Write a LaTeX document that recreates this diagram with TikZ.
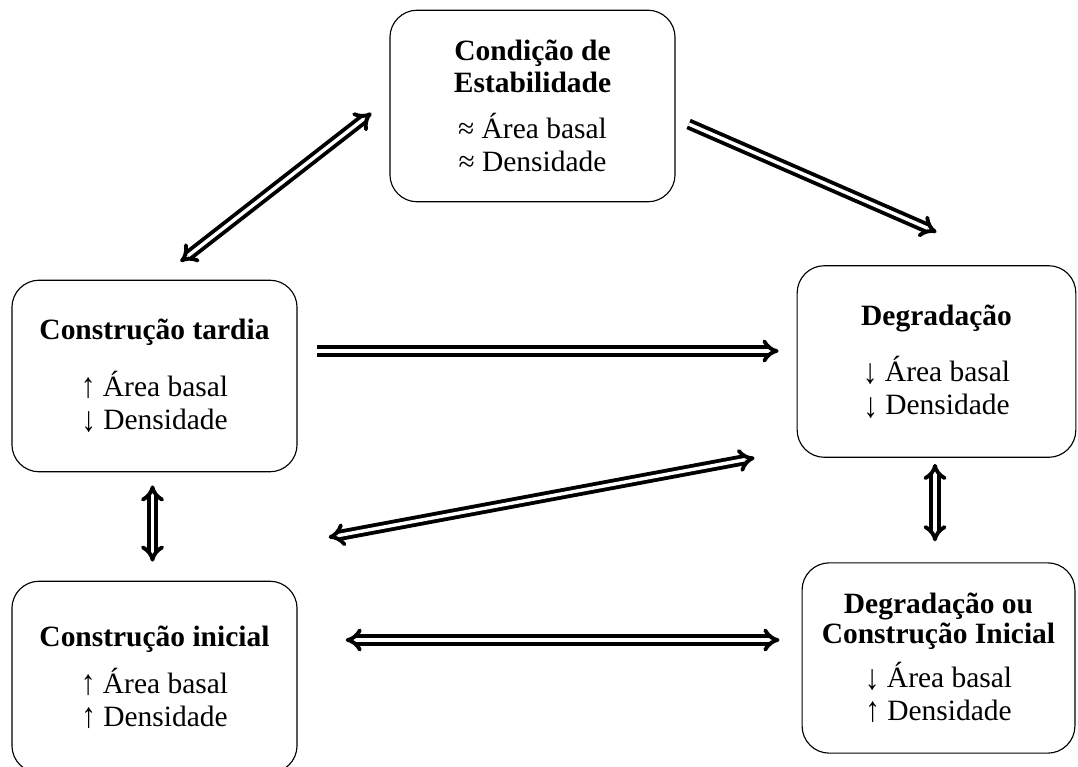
\documentclass[tikz,border=0pt]{standalone}
\usepackage{fontspec}
\setmainfont{Liberation Serif}
\usetikzlibrary{positioning,calc,arrows.meta}
\tikzset{>=latex}
\tikzset{
    state/.style={draw,rounded corners=12pt,line width=0.5pt,align=center,
        font=\fontsize{13}{14.6}\selectfont},
    flow/.style={double,double distance=1.5pt,line width=1.7pt,-Implies},
    exchange/.style={double,double distance=1.5pt,line width=1.7pt,Implies-Implies}
}
\newcommand\up{\raisebox{-0.5pt}{\scalebox{1}[1.2]{↑}}}
\newcommand\down{\raisebox{-1pt}{\scalebox{1}[1.2]{↓}}}

\begin{document}
\begin{tikzpicture}[x=0.0155cm,y=-0.0155cm]

    \def\xLeft{154.5}
    \def\xCentre{532.5}
    \def\xRight{936.5}
    \def\xRightLow{938.5}
    \def\yTop{106}
    \def\yMidLeft{376}
    \def\yMidRight{361.5}
    \def\yLowLeft{677}
    \def\yLowRight{658}

    \def\widthWide{4.42cm}
    \def\widthMid{4.32cm}
    \def\widthNarrow{4.23cm}
    \def\heightBox{2.97cm}

    \useasboundingbox (0,0) rectangle (1078,767);

    \node
        [state,minimum width=\widthWide,minimum height=\heightBox]
        at (\xCentre,\yTop)
        (stability) {\textbf{Condição de}\\[-0.5pt]\textbf{Estabilidade}\\[5.6pt]
            ≈ Área basal\\≈ Densidade};
    \node
        [state,minimum width=\widthWide,minimum height=\heightBox]
        at (\xLeft,\yMidLeft)
        (late) {\textbf{Construção tardia}\\[10.2pt]
            \up\ Área basal\\\down\ Densidade};
    \node
        [state,minimum width=\widthMid,minimum height=\heightBox]
        at (\xRight,\yMidRight)
        (degradation) {\textbf{Degradação}\\[10.2pt]
            \down\ Área basal\\\down\ Densidade};
    \node
        [state,minimum width=\widthWide,minimum height=\heightBox]
        at (\xLeft,\yLowLeft)
        (early) {\textbf{Construção inicial}\\[6.2pt]
            \up\ Área basal\\\up\ Densidade};
    \node
        [state,minimum width=\widthNarrow,minimum height=2.95cm]
        at (\xRightLow,\yLowRight)
        (mixed) {\textbf{Degradação ou}\\[-1.3pt]\textbf{Construção Inicial}\\[4.6pt]
            \down\ Área basal\\\up\ Densidade};

    \draw[exchange] ($(late.north)+(26,-18)$) -- ($(stability.west)+(-18,7)$);
    \draw[flow] ($(stability.east)+(13,18)$) -- ($(degradation.north)+(0,-33)$);
    \draw[flow] ($(late.east)+(19,-25)$) -- ($(degradation.west)+(-18,-10.5)$);
    \draw[exchange] ($(late.south east)+(31,65)$) -- ($(degradation.south west)+(-42,0)$);
    \draw[exchange] ($(late.south)+(-2,13)$) -- ($(early.north)+(-2,-19)$);
    \draw[exchange] ($(degradation.south)+(-1.5,6)$) -- ($(mixed.north)+(-3.5,-21)$);
    \draw[exchange] ($(early.east)+(48,-37)$) -- ($(mixed.west)+(-22,-18)$);

\end{tikzpicture}
\end{document}
